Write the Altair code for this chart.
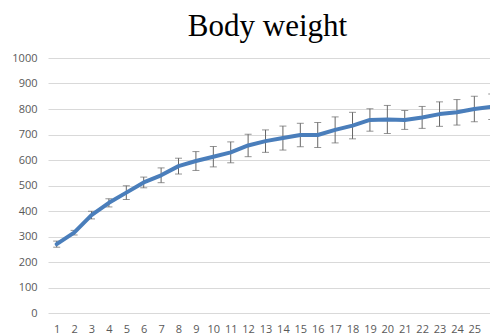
import altair as alt
import pandas as pd

weeks = list(range(1, 27))
means = [270, 315, 384, 432, 472, 512, 540, 576, 596, 613, 630, 657, 674, 686,
         698, 698, 718, 735, 757, 759, 757, 767, 780, 787, 800, 809]
errors = [12, 9, 15, 16, 27, 21, 29, 31, 37, 40, 41, 44, 44, 47,
          46, 49, 51, 52, 44, 55, 37, 43, 48, 50, 50, 50]
y_ticks = list(range(0, 1001, 100))

df = pd.DataFrame({"week": weeks, "mean": means, "err": errors})
df["lo"] = df["mean"] - df["err"]
df["hi"] = df["mean"] + df["err"]

# plot area is clipped at the right edge, as in the reference
xscale = alt.Scale(domain=[0.5, 25.9], nice=False, zero=False)
yscale = alt.Scale(domain=[0, 1000], nice=False)

x_axis = alt.Axis(values=weeks, title=None, grid=False, domain=False, ticks=False,
                  labelPadding=10, labelFontSize=11, labelColor="#595959",
                  labelFont="Open Sans", labelFlush=False, labelOverlap=False, format="d")
y_axis = alt.Axis(values=y_ticks, title=None, domain=False, ticks=False, format="d",
                  labelPadding=11, labelFontSize=11, labelColor="#595959",
                  labelFont="Open Sans", gridColor="#d9d9d9", gridWidth=1, labelOverlap=False)

base = alt.Chart(df)
X = alt.X("week:Q", scale=xscale, axis=x_axis)

rules = base.mark_rule(color="#666666", strokeWidth=1).encode(
    x=X, y=alt.Y("lo:Q", scale=yscale, axis=y_axis), y2="hi:Q")
cap_hi = base.mark_tick(color="#666666", orient="horizontal", size=7, thickness=1).encode(
    x=X, y=alt.Y("hi:Q", scale=yscale, axis=y_axis))
cap_lo = base.mark_tick(color="#666666", orient="horizontal", size=7, thickness=1).encode(
    x=X, y=alt.Y("lo:Q", scale=yscale, axis=y_axis))
line = base.mark_line(color="#4a7ebb", strokeWidth=4, strokeCap="round", strokeJoin="round").encode(
    x=X, y=alt.Y("mean:Q", scale=yscale, axis=y_axis))

chart = alt.layer(rules, cap_hi, cap_lo, line).properties(
    width=442, height=255,
    autosize=alt.AutoSizeParams(type="none"),
    padding={"left": 40, "top": 50, "right": 0, "bottom": 24},
    title=alt.TitleParams("Body weight", font="Liberation Serif", fontSize=31,
                          fontWeight="normal", color="#000000", anchor="start",
                          dx=176, offset=9),
).configure_view(stroke=None)

chart.save("out.html", embed_options={"renderer": "svg", "actions": False})
